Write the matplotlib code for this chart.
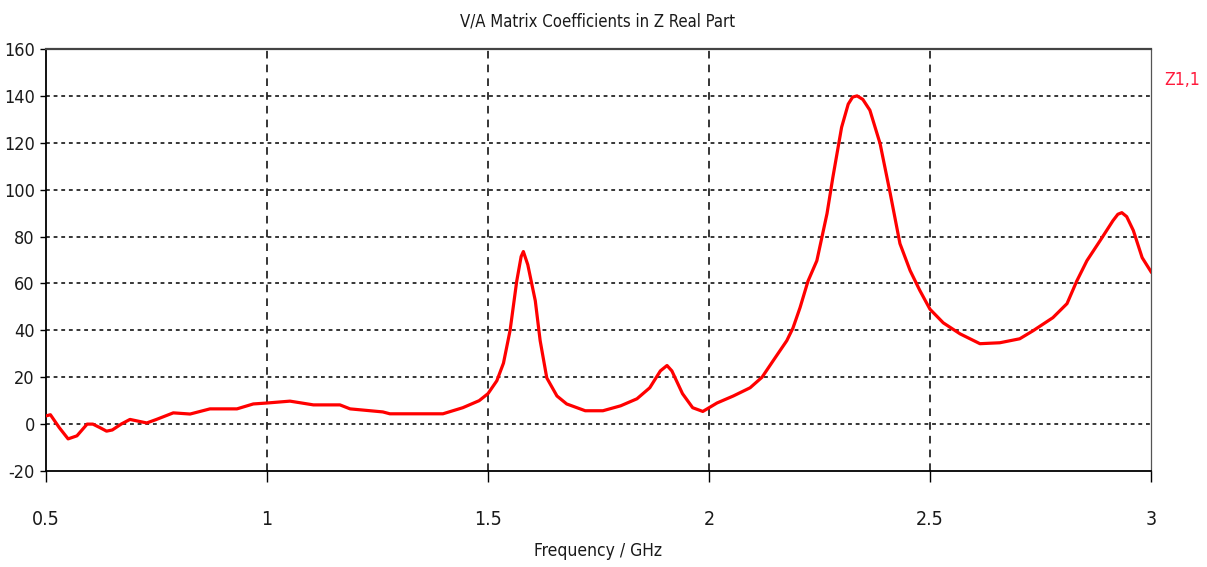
import matplotlib
matplotlib.use("Agg")
import matplotlib.pyplot as plt
import numpy as np

freq_ghz = [0.50, 0.51, 0.53, 0.55, 0.57, 0.593, 0.606, 0.622, 0.637, 0.65, 0.67, 0.69, 0.71, 0.728,
            0.75, 0.788, 0.826, 0.871, 0.932, 0.969, 1.00, 1.052, 1.105, 1.165, 1.188, 1.262, 1.278,
            1.398, 1.443, 1.48, 1.50, 1.52, 1.535,
            1.55, 1.565, 1.575, 1.58, 1.59, 1.607, 1.618, 1.633, 1.656, 1.678, 1.72, 1.76, 1.80,
            1.837, 1.866, 1.89, 1.905, 1.916, 1.94, 1.963, 1.986, 2.018, 2.055, 2.093, 2.12, 2.145,
            2.176, 2.19, 2.206, 2.224, 2.244, 2.267, 2.28, 2.30, 2.315, 2.325, 2.335, 2.348, 2.364,
            2.387, 2.41, 2.432, 2.455, 2.477, 2.50, 2.53, 2.568, 2.613, 2.658, 2.703, 2.733, 2.778,
            2.81, 2.832, 2.855, 2.885, 2.914, 2.925, 2.934, 2.945, 2.96, 2.98, 3.00]
z11_real = [3.5, 4.0, -1.5, -6.3, -5.0, 0.0, 0.0, -1.5, -3.0, -2.5, 0.0, 2.0, 1.2, 0.5,
            2.0, 4.8, 4.3, 6.5, 6.5, 8.6, 9.0, 9.8, 8.2, 8.2, 6.5, 5.2, 4.4,
            4.4, 7.0, 10.0, 13.0, 18.5, 26.0,
            40.0, 61.0, 71.5, 73.6, 68.0, 52.6, 35.6, 19.7, 12.0, 8.6, 5.7, 5.7, 7.8,
            10.8, 15.5, 22.7, 25.0, 22.7, 13.0, 7.0, 5.4, 9.0, 12.0, 15.5, 20.0, 27.0,
            35.6, 41.0, 49.7, 61.0, 69.7, 89.8, 105.0, 126.6, 136.5, 139.5, 140.0, 138.5, 133.9,
            119.7, 98.4, 77.0, 65.5, 57.0, 49.0, 43.2, 38.5, 34.3, 34.7, 36.4, 39.8, 45.4,
            51.4, 61.0, 69.7, 78.3, 86.8, 89.5, 90.2, 88.5, 82.6, 71.0, 65.0]

x_ticks = [0.5, 1, 1.5, 2, 2.5, 3]
x_tick_labels = ["0.5", "1", "1.5", "2", "2.5", "3"]
y_ticks = [-20, 0, 20, 40, 60, 80, 100, 120, 140, 160]

plt.rcParams["font.family"] = ["DejaVu Sans"]
plt.rcParams["font.stretch"] = "condensed"
plt.rcParams["axes.unicode_minus"] = False

fig = plt.figure(figsize=(12.07, 5.67), dpi=100)
ax = fig.add_axes([46/1207, 1-471/567, (1151-46)/1207, (471-49)/567])

ax.plot(freq_ghz, z11_real, color="#ff0000", lw=2.3, zorder=3)

ax.set_xlim(0.5, 3)
ax.set_ylim(-20, 160)
ax.set_xticks(x_ticks)
ax.set_xticklabels(x_tick_labels)
ax.set_yticks(y_ticks)

for v in y_ticks[1:-1]:
    ax.axhline(v, color="black", lw=1.1, ls=(0, (2.5, 2.5)), zorder=1)
for v in x_ticks[1:-1]:
    ax.axvline(v, color="black", lw=1.1, ls=(0, (5, 4)), zorder=1)

for s in ["left", "bottom"]:
    ax.spines[s].set_color("black")
    ax.spines[s].set_linewidth(1.3)
ax.spines["top"].set_color("#444444")
ax.spines["top"].set_linewidth(1.6)
ax.spines["right"].set_color("#555555")
ax.spines["right"].set_linewidth(0.9)

ax.tick_params(axis="x", direction="out", length=8, width=1, pad=20, labelsize=14, colors="black")
ax.tick_params(axis="y", direction="out", length=4, width=1, pad=4, labelsize=13, colors="black")
for lab in ax.get_xticklabels() + ax.get_yticklabels():
    lab.set_color("#1a1a1a")

fig.text(598/1207, 1-22/567, "V/A Matrix Coefficients in Z Real Part", ha="center", va="center",
         fontsize=12, color="#1a1a1a")
fig.text(598/1207, 1-551/567, "Frequency / GHz", ha="center", va="center",
         fontsize=12.5, color="#1a1a1a")
fig.text(1182/1207, 1-80/567, "Z1,1", ha="center", va="center", fontsize=12.5, color="#ff1a3c")

fig.savefig("out.png", dpi=100)
